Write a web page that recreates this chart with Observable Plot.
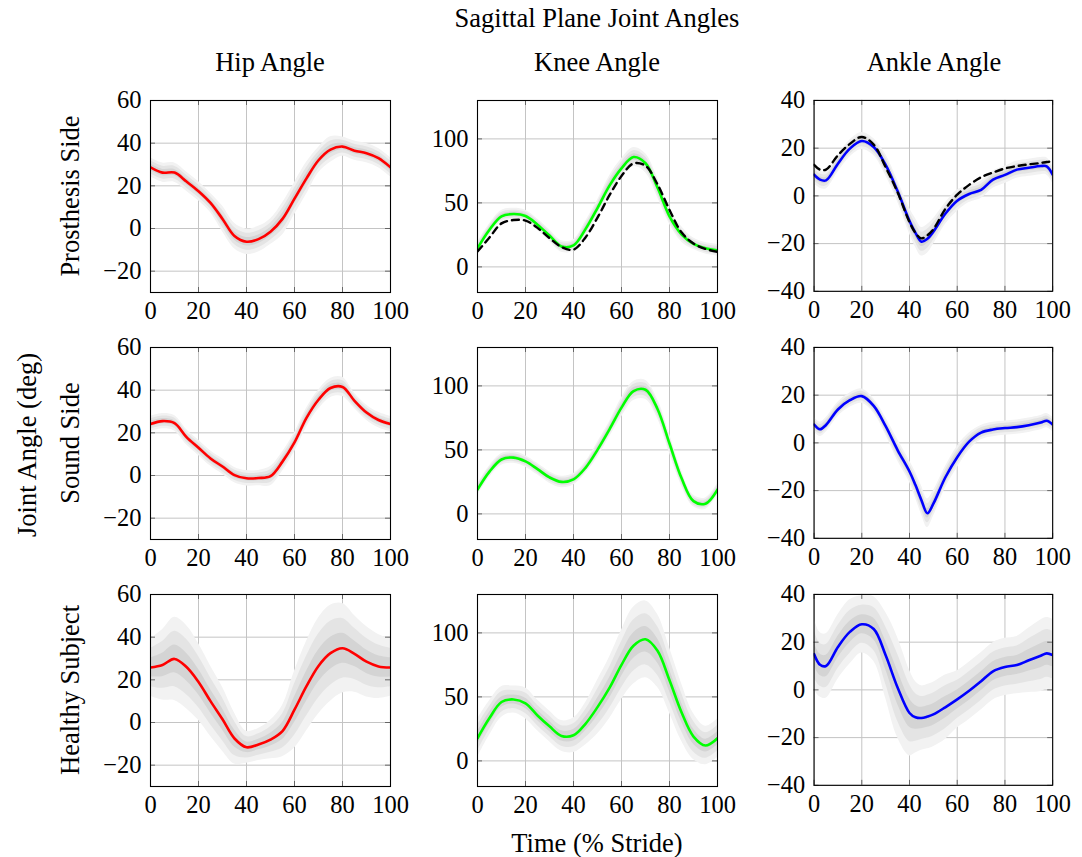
<!DOCTYPE html>
<html><head><meta charset="utf-8">
<script src="https://cdn.jsdelivr.net/npm/d3@7"></script>
<script src="https://cdn.jsdelivr.net/npm/@observablehq/plot@0.6"></script>
<style>
body{margin:0;background:#fff;}
#root{position:relative;width:1082px;height:857px;font-family:"Liberation Serif","Times New Roman",serif;color:#000;overflow:hidden;}
.lbl{position:absolute;white-space:nowrap;font-size:26.5px;line-height:1;transform:translate(-50%,-50%);}
.rot{transform:translate(-50%,-50%) rotate(-90deg);}
.pn{position:absolute;}
.pn svg text{text-rendering:optimizeLegibility;}
</style></head><body><div id="root"></div>
<script>
// ---- data ----
const title = "Sagittal Plane Joint Angles";
const joints = ["Hip Angle", "Knee Angle", "Ankle Angle"];
const conditions = ["Prosthesis Side", "Sound Side", "Healthy Subject"];
const yLabel = "Joint Angle (deg)";
const xLabel = "Time (% Stride)";

const xTicks = [0, 20, 40, 60, 80, 100];
const hipTicks = [-20, 0, 20, 40, 60];
const kneeTicks = [0, 50, 100];
const ankleTicks = [-40, -20, 0, 20, 40];
const hipDomain = [-30, 60];
const kneeDomain = [-20, 130];
const ankleDomain = [-40, 40];

const stride = [0,5,10,15,20,25,30,35,40,45,50,55,60,65,70,75,80,85,90,95,100];
const strideAnkle = [0,2.5,5,10,15,20,25,30,35,40,42.5,45,47.5,50,55,60,65,70,75,80,85,90,95,97.5,100];

// Hip
const hipProsthesis   = [28.7,26.2,26.2,22,17.5,12,4.5,-3.5,-6.2,-5,-1.5,4.5,14,23.5,32,37,38.4,36.5,35.3,33,28.7];
const hipProsthesisSd = [1.5,1.5,1.5,1.5,1.5,1.5,2,2,2,2,2,2.5,2.5,2.5,2,2,1.5,1.5,1.5,1.5,1.5];
const hipSound        = [24.1,25.5,24.5,18,13,8,4.2,0.2,-1.3,-1.2,-0.3,6.5,15.5,27,35.5,41,41.5,35,29.5,26,24.1];
const hipSoundSd      = [1.2,1.2,1.2,1.2,1.2,1.2,1.2,1.2,1.2,1.2,1.5,1.5,1.5,1.5,1.5,1.5,1.5,1.2,1.2,1.2,1.2];
const hipHealthy      = [25.8,27,29.8,26,19,10,1.5,-7.5,-11.6,-10.3,-8,-4,6,17,26.5,32.5,34.8,32.2,28.5,26.3,25.8];
const hipHealthySd    = [4.5,5.5,6.5,6.5,6,5.5,5,4,2.5,2.5,3,4,6,7,7.5,7.5,7,6,5.5,5,4.5];

// Knee
const kneeProsthesis    = [14.5,29,39.5,41.3,39.8,33,24.5,16,16.8,29.5,46,63.5,77,85.8,81,62,39.5,25.5,18,14.5,13];
const kneeProsthesisRef = [12,23,34,36.6,36.2,30.5,22.5,15.5,13.5,23,38.5,56,71,80.8,79,64.5,44.5,27,18.3,14,11.8];
const kneeProsthesisSd  = [1.5,1.5,1.5,1.5,1.5,1.5,1.5,1.5,1.5,2,2,2.5,2.5,2.5,2.5,2.5,2,2,1.5,1.5,1.5];
const kneeSound         = [19,33,42.5,44,41,35,28.5,25,27,36,50,66,83,96,97,82,55,28,10,8,19];
const kneeSoundSd       = [1.5,1.5,1.5,1.5,1.5,1.5,1.5,1.5,1.5,1.5,2,2,2.5,2.5,2.5,2.5,2.5,2,1.5,1.5,1.5];
const kneeHealthy       = [17.7,33.5,46,48,45,35.5,27,19.5,20,29,42,57,75,90,95,86,63,38,19,12,17.7];
const kneeHealthySd     = [5,4.5,4,3.5,4,4,4,4,4.5,5.5,7,8,9,10,10,9.5,8.5,7.5,6,5,5];

// Ankle
const ankleProsthesis    = [8.9,6.8,6.5,13.5,19.8,23,20.5,13,2,-10.5,-15.5,-19.2,-18,-15,-7.5,-2,0.8,2.5,6.8,8.8,11,11.8,12.5,12.4,8.9];
const ankleProsthesisRef = [13,11,11,17,21.8,24.7,21.5,12,1.5,-11,-15.5,-17.8,-16.5,-14,-5.5,0.5,4.6,7.8,9.8,11.5,12.5,13.2,13.8,14.2,14.4];
const ankleProsthesisSd  = [1.2,1.2,1.2,1.2,1.2,1.2,1.2,1.5,1.5,1.8,2,2,2,1.8,1.5,1.5,1.2,1.2,1.2,1.2,1.2,1.2,1.2,1.2,1.2];
const ankleSound         = [7.7,5.7,7.5,14,17.9,19.6,15.5,7,-3,-12,-17.7,-24,-29.5,-25.5,-14.5,-6,0.5,4.3,5.6,6.2,6.6,7.4,8.5,9.3,7.7];
const ankleSoundSd       = [1,1,1,1,1,1,1,1.2,1.5,1.5,1.8,2,2,1.8,1.5,1.5,1.2,1,1,1,1,1,1,1,1];
const ankleHealthy       = [15,10.5,10,18,24.3,27.5,25.5,14.5,1,-9.7,-11.5,-11.8,-11.2,-10.3,-7.3,-4,-0.4,3.6,7.8,9.6,10.4,12.4,14.3,15.3,14.6];
const ankleHealthySd     = [5,4.5,4.5,4.5,4.5,4,4.5,6,7,6,5,4.5,4.5,4.5,4.5,4,4,4,4,4,4,4.5,5,5,5];

// ---- layout ----
const colLeft = [150, 477, 814];
const rowTop = [100, 347, 594];
const W = 240, H = 192;
const ML = 75, MR = 30, MT = 10, MB = 45;
const colors = ["#ff0000", "#00ff00", "#0000ff"];
const bandFills = ["#f2f2f2", "#e4e4e4", "#d4d4d4"];
const serif = "'Liberation Serif', 'Times New Roman', Times, serif";
const fmt = d3.format("d");
const root = document.getElementById("root");

const panels = [
  [ {x: stride, m: hipProsthesis, s: hipProsthesisSd}, {x: stride, m: kneeProsthesis, s: kneeProsthesisSd, r: kneeProsthesisRef}, {x: strideAnkle, m: ankleProsthesis, s: ankleProsthesisSd, r: ankleProsthesisRef} ],
  [ {x: stride, m: hipSound, s: hipSoundSd}, {x: stride, m: kneeSound, s: kneeSoundSd}, {x: strideAnkle, m: ankleSound, s: ankleSoundSd} ],
  [ {x: stride, m: hipHealthy, s: hipHealthySd}, {x: stride, m: kneeHealthy, s: kneeHealthySd}, {x: strideAnkle, m: ankleHealthy, s: ankleHealthySd} ]
];
const domains = [hipDomain, kneeDomain, ankleDomain];
const yTickSets = [hipTicks, kneeTicks, ankleTicks];

panels.forEach((row, ri) => row.forEach((p, ci) => {
  const data = p.x.map((t, i) => ({t, m: p.m[i], s: p.s[i], r: p.r ? p.r[i] : null}));
  const yT = yTickSets[ci];
  const marks = [
    Plot.gridX(xTicks, {stroke: "#c4c4c4", strokeOpacity: 1, strokeWidth: 1}),
    Plot.gridY(yT, {stroke: "#c4c4c4", strokeOpacity: 1, strokeWidth: 1}),
    ...[3, 2, 1].map((k, j) => Plot.areaY(data, {x: "t", y1: d => d.m - k * d.s, y2: d => d.m + k * d.s, fill: bandFills[j], curve: "catmull-rom", clip: true})),
    Plot.line(data, {x: "t", y: "m", stroke: colors[ci], strokeWidth: 2.6, curve: "catmull-rom", clip: true}),
  ];
  if (p.r) marks.push(Plot.line(data, {x: "t", y: "r", stroke: "#000", strokeWidth: 2.4, strokeDasharray: "7,5", curve: "catmull-rom", clip: true}));
  marks.push(
    Plot.ruleX(xTicks, {x: d => d, insetTop: H - 5, stroke: "#666", strokeWidth: 1}),
    Plot.ruleX(xTicks, {x: d => d, insetBottom: H - 5, stroke: "#666", strokeWidth: 1}),
    Plot.ruleY(yT, {y: d => d, insetRight: W - 5, stroke: "#666", strokeWidth: 1}),
    Plot.ruleY(yT, {y: d => d, insetLeft: W - 5, stroke: "#666", strokeWidth: 1}),
    Plot.frame({stroke: "#000", strokeWidth: 1.1}),
    Plot.text(xTicks, {x: d => d, frameAnchor: "bottom", lineAnchor: "top", dy: 9, text: fmt, fontFamily: serif, fontSize: 24.5, fill: "#000"}),
    Plot.text(yT, {y: d => d, frameAnchor: "left", textAnchor: "end", lineAnchor: "middle", dx: -9, text: fmt, fontFamily: serif, fontSize: 24.5, fill: "#000"})
  );
  const chart = Plot.plot({
    width: W + ML + MR, height: H + MT + MB,
    marginLeft: ML, marginRight: MR, marginTop: MT, marginBottom: MB,
    x: {domain: [0, 100], axis: null},
    y: {domain: domains[ci], axis: null},
    style: {fontFamily: serif, fontSize: "24.5px", background: "transparent", overflow: "visible", color: "#000"},
    marks
  });
  const div = document.createElement("div");
  div.className = "pn";
  div.style.left = (colLeft[ci] - ML) + "px";
  div.style.top = (rowTop[ri] - MT) + "px";
  div.appendChild(chart);
  root.appendChild(div);
}));

function label(text, x, y, rot) {
  const d = document.createElement("div");
  d.className = "lbl" + (rot ? " rot" : "");
  d.style.left = x + "px";
  d.style.top = y + "px";
  d.textContent = text;
  root.appendChild(d);
}
label(title, 597, 18);
joints.forEach((j, i) => label(j, colLeft[i] + W / 2, 62));
conditions.forEach((c, i) => label(c, 70, rowTop[i] + H / 2, true));
label(yLabel, 27, 445, true);
label(xLabel, 597, 843);
</script>
</body></html>
